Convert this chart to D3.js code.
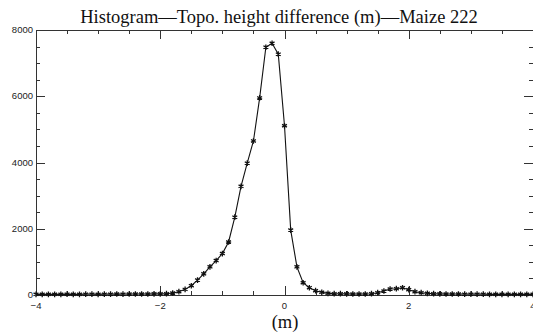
<!DOCTYPE html>
<html>
<head>
<meta charset="utf-8">
<script src="https://cdn.jsdelivr.net/npm/d3@7"></script>
<style>
  body { margin: 0; background: #fff; }
  svg { display: block; }
  .tick-label { font-family: "Liberation Sans", Arial, sans-serif; font-size: 9.5px; fill: #222; }
  .serif { font-family: "Liberation Serif", "Times New Roman", serif; fill: #111; }
</style>
</head>
<body>
<svg id="chart" width="533" height="335"></svg>
<script>
// bin centres (m)
const binCentres = [
  -4.0, -3.9, -3.8, -3.7, -3.6, -3.5, -3.4, -3.3, -3.2, -3.1,
  -3.0, -2.9, -2.8, -2.7, -2.6, -2.5, -2.4, -2.3, -2.2, -2.1,
  -2.0, -1.9, -1.8, -1.7, -1.6, -1.5, -1.4, -1.3, -1.2, -1.1,
  -1.0, -0.9, -0.8, -0.7, -0.6, -0.5, -0.4, -0.3, -0.2, -0.1,
  0.0, 0.1, 0.2, 0.3, 0.4, 0.5, 0.6, 0.7, 0.8, 0.9,
  1.0, 1.1, 1.2, 1.3, 1.4, 1.5, 1.6, 1.7, 1.8, 1.9,
  2.0, 2.1, 2.2, 2.3, 2.4, 2.5, 2.6, 2.7, 2.8, 2.9,
  3.0, 3.1, 3.2, 3.3, 3.4, 3.5, 3.6, 3.7, 3.8, 3.9,
  4.0
];
// counts per bin
const counts = [
  20, 20, 20, 20, 20, 25, 20, 20, 25, 25,
  20, 25, 25, 30, 25, 30, 30, 30, 30, 35,
  35, 40, 60, 100, 170, 280, 450, 640, 850, 1040,
  1250, 1600, 2350, 3280, 3980, 4650, 5950, 7480, 7600, 7270,
  5110, 1960, 850, 370, 220, 130, 80, 50, 40, 40,
  35, 30, 30, 30, 40, 70, 120, 180, 190, 220,
  160, 100, 70, 50, 40, 35, 30, 30, 30, 25,
  25, 25, 25, 20, 20, 20, 20, 20, 20, 20,
  20
];
const xTickValues = [-4, -2, 0, 2, 4];
const yTickValues = [0, 2000, 4000, 6000, 8000];
const titleText = 'Histogram\u2014Topo. height difference (m)\u2014Maize 222';
const xLabelText = '(m)';

const svg = d3.select('#chart');
const plotLeft = 36, plotRight = 533, plotTop = 30, plotBottom = 295;
const axisColor = '#333';

const x = d3.scaleLinear().domain([-4, 4]).range([plotLeft, plotRight]);
const y = d3.scaleLinear().domain([0, 8000]).range([plotBottom, plotTop]);

// minor ticks every 0.5 m and every 500 counts
const xMinor = d3.range(-4, 4.001, 0.5);
const yMinor = d3.range(0, 8001, 500);

const axes = svg.append('g')
  .attr('stroke', axisColor)
  .attr('stroke-width', 1);

// frame lines (the right one falls on the page edge)
axes.append('line').attr('x1', plotLeft).attr('x2', plotRight).attr('y1', plotBottom + 0.5).attr('y2', plotBottom + 0.5);
axes.append('line').attr('x1', plotLeft).attr('x2', plotRight).attr('y1', plotTop + 0.5).attr('y2', plotTop + 0.5);
axes.append('line').attr('x1', plotLeft + 0.5).attr('x2', plotLeft + 0.5).attr('y1', plotTop).attr('y2', plotBottom);
axes.append('line').attr('x1', plotRight + 0.5).attr('x2', plotRight + 0.5).attr('y1', plotTop).attr('y2', plotBottom);

// x ticks, bottom (up) and top (down)
xMinor.forEach((v) => {
  const len = xTickValues.includes(Math.round(v * 10) / 10) ? 9 : 4;
  const px = Math.round(x(v)) + 0.5;
  axes.append('line').attr('x1', px).attr('x2', px).attr('y1', plotBottom).attr('y2', plotBottom - len);
  axes.append('line').attr('x1', px).attr('x2', px).attr('y1', plotTop).attr('y2', plotTop + len);
});

// y ticks, left (right) and right (left)
yMinor.forEach((v) => {
  const len = yTickValues.includes(v) ? 9 : 4;
  const py = Math.round(y(v)) + 0.5;
  axes.append('line').attr('x1', plotLeft).attr('x2', plotLeft + len).attr('y1', py).attr('y2', py);
  axes.append('line').attr('x1', plotRight).attr('x2', plotRight - len).attr('y1', py).attr('y2', py);
});

// tick labels
svg.append('g').selectAll('text')
  .data(xTickValues)
  .enter()
    .append('text')
    .attr('class', 'tick-label')
    .attr('x', d => x(d))
    .attr('y', plotBottom + 14)
    .attr('text-anchor', 'middle')
    .text(d => (d < 0 ? '\u2212' + Math.abs(d) : d));

svg.append('g').selectAll('text')
  .data(yTickValues)
  .enter()
    .append('text')
    .attr('class', 'tick-label')
    .attr('x', plotLeft - 3)
    .attr('y', d => y(d) + 3)
    .attr('text-anchor', 'end')
    .text(d => d);

// the curve
const points = binCentres.map((c, i) => [c, counts[i]]);
const line = d3.line()
  .x(d => x(d[0]))
  .y(d => y(d[1]));

svg.append('path')
  .datum(points)
  .attr('d', line)
  .attr('fill', 'none')
  .attr('stroke', '#111')
  .attr('stroke-width', 1.1);

const star = d3.symbol().type(d3.symbolAsterisk).size(22);
svg.append('g').selectAll('.dot')
  .data(points)
  .enter()
    .append('path')
    .attr('class', 'dot')
    .attr('d', star)
    .attr('transform', d => `translate(${x(d[0])},${y(d[1])})`)
    .attr('fill', 'none')
    .attr('stroke', '#111')
    .attr('stroke-width', 1.3);

// title and axis label
svg.append('text')
  .attr('class', 'serif')
  .attr('x', 279)
  .attr('y', 23)
  .attr('text-anchor', 'middle')
  .style('font-size', '18.5px')
  .text(titleText);

svg.append('text')
  .attr('class', 'serif')
  .attr('x', 285)
  .attr('y', 328)
  .attr('text-anchor', 'middle')
  .style('font-size', '18.5px')
  .text(xLabelText);
</script>
</body>
</html>
